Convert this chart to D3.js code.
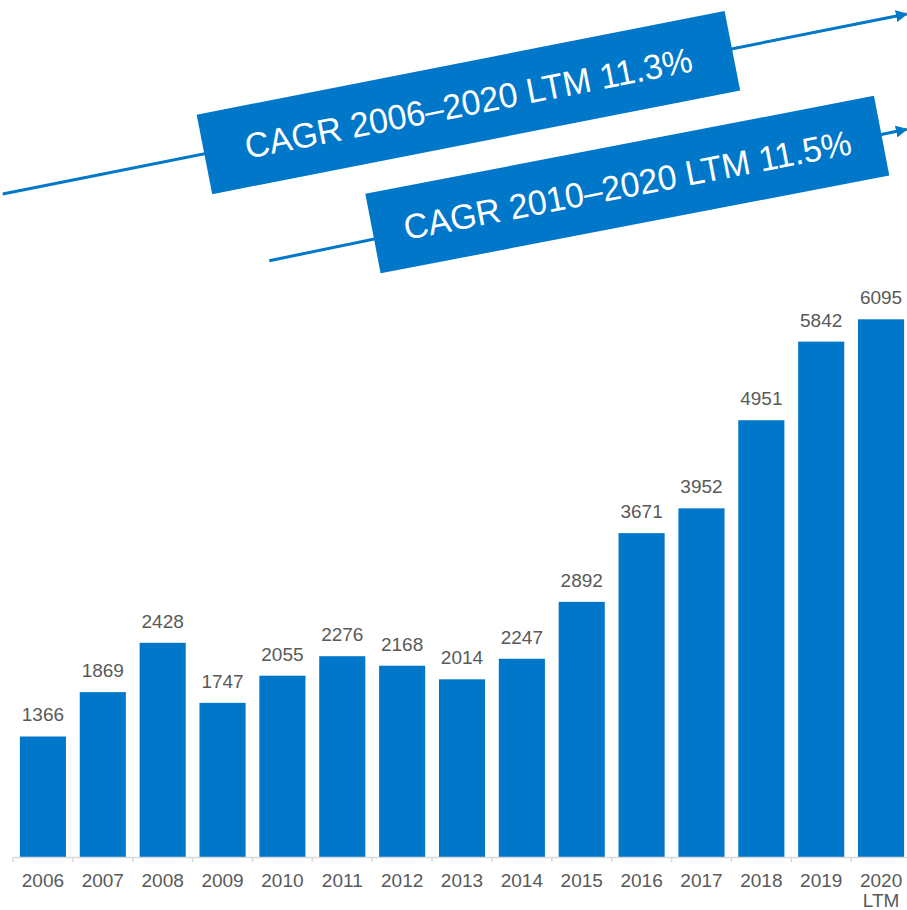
<!DOCTYPE html>
<html>
<head>
<meta charset="utf-8">
<script src="https://cdn.jsdelivr.net/npm/d3@7"></script>
<style>
  html, body { margin: 0; padding: 0; background: #ffffff; }
  svg { display: block; font-family: "Liberation Sans", Arial, sans-serif; }
</style>
</head>
<body>
<svg id="chart" width="907" height="910"></svg>
<script>
// Yearly values (2020 is last twelve months)
const years = ["2006", "2007", "2008", "2009", "2010", "2011", "2012", "2013", "2014",
               "2015", "2016", "2017", "2018", "2019", "2020 LTM"];
const values = [1366, 1869, 2428, 1747, 2055, 2276, 2168, 2014, 2247,
                2892, 3671, 3952, 4951, 5842, 6095];

// Growth-rate call-outs
const cagrLabels = ["CAGR 2006\u20132020 LTM 11.3%", "CAGR 2010\u20132020 LTM 11.5%"];

const blue = "#0077c8";
const textGray = "#595959";
const axisGray = "#d9d9d9";

const svg = d3.select("#chart");
const baseY = 857;

const x = d3.scaleBand()
  .domain(years)
  .range([13, 911])
  .paddingInner(0.23)
  .paddingOuter(0.115);

const y = d3.scaleLinear()
  .domain([0, d3.max(values)])
  .range([baseY, 319.3]);

const data = years.map((yr, i) => ({ year: yr, value: values[i] }));

// Bars
svg.append("g")
  .selectAll("rect")
  .data(data)
  .join("rect")
  .attr("x", d => x(d.year))
  .attr("width", x.bandwidth())
  .attr("y", d => y(d.value))
  .attr("height", d => baseY - y(d.value))
  .attr("fill", blue);

// Value labels
svg.append("g")
  .selectAll("text")
  .data(data)
  .join("text")
  .attr("x", d => x(d.year) + x.bandwidth() / 2)
  .attr("y", d => y(d.value) - 15)
  .attr("text-anchor", "middle")
  .attr("font-size", 19)
  .attr("fill", textGray)
  .text(d => d.value);

// Category axis with ticks on band boundaries
const axisG = svg.append("g").attr("transform", `translate(0,${baseY})`);
axisG.call(d3.axisBottom(x).tickSize(0).tickFormat(""));
axisG.select(".domain").attr("stroke", axisGray).attr("stroke-width", 1.5);

const edge = x.step() * x.paddingOuter();
const boundaries = years.map(yr => x(yr) - edge);
axisG.selectAll("line.bound")
  .data(boundaries)
  .join("line")
  .attr("class", "bound")
  .attr("x1", d => d).attr("x2", d => d)
  .attr("y1", 0).attr("y2", 5)
  .attr("stroke", axisGray)
  .attr("stroke-width", 1.5);

const labels = axisG.selectAll("text.cat")
  .data(years)
  .join("text")
  .attr("class", "cat")
  .attr("text-anchor", "middle")
  .attr("font-size", 19)
  .attr("fill", textGray)
  .attr("transform", d => `translate(${x(d) + x.bandwidth() / 2},30)`);
labels.selectAll("tspan")
  .data(d => d.split(" "))
  .join("tspan")
  .attr("x", 0)
  .attr("dy", (d, i) => i === 0 ? 0 : 20)
  .text(d => d);

// Trend arrows with CAGR boxes
const defs = svg.append("defs");
defs.append("marker")
  .attr("id", "arrowHead")
  .attr("viewBox", "0 0 10 10")
  .attr("refX", 9)
  .attr("refY", 5)
  .attr("markerWidth", 12)
  .attr("markerHeight", 12)
  .attr("markerUnits", "userSpaceOnUse")
  .attr("orient", "auto")
  .append("path")
  .attr("d", "M0,0 L10,5 L0,10 Z")
  .attr("fill", blue);

const callouts = [
  { line: [[2.7, 194], [906.7, 14]], cx: 468.4, cy: 102.6, w: 538, h: 81, angle: -11.1, text: cagrLabels[0] },
  { line: [[269.3, 260.7], [906.7, 129.3]], cx: 627.3, cy: 184.6, w: 518, h: 81, angle: -10.9, text: cagrLabels[1] }
];

callouts.forEach(c => {
  svg.append("line")
    .attr("x1", c.line[0][0]).attr("y1", c.line[0][1])
    .attr("x2", c.line[1][0]).attr("y2", c.line[1][1])
    .attr("stroke", blue)
    .attr("stroke-width", 3)
    .attr("marker-end", "url(#arrowHead)");
});

callouts.forEach(c => {
  const g = svg.append("g")
    .attr("transform", `translate(${c.cx},${c.cy}) rotate(${c.angle})`);
  g.append("rect")
    .attr("x", -c.w / 2).attr("y", -c.h / 2)
    .attr("width", c.w).attr("height", c.h)
    .attr("fill", blue);
  // slightly condensed white caption
  g.append("text")
    .attr("transform", "scale(0.97,1)")
    .attr("text-anchor", "middle")
    .attr("dy", "0.36em")
    .attr("font-size", 35)
    .attr("fill", "#ffffff")
    .text(c.text);
});
</script>
</body>
</html>
